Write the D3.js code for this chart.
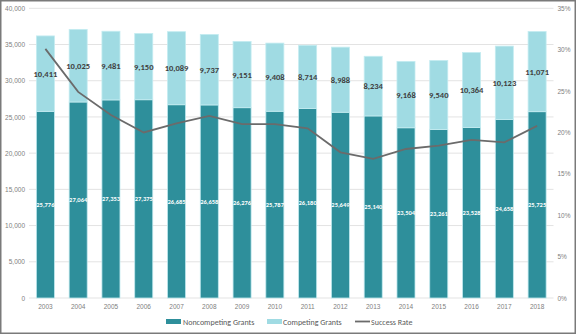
<!DOCTYPE html>
<html><head><meta charset="utf-8">
<script src="https://cdn.jsdelivr.net/npm/d3@7"></script>
<style>body{margin:0;background:#fff}svg{display:block;font-family:Calibri,Carlito,"Open Sans",sans-serif}</style>
</head><body>
<script>
const years = ["2003","2004","2005","2006","2007","2008","2009","2010","2011","2012","2013","2014","2015","2016","2017","2018"];
const noncompeting = [25776,27064,27353,27375,26685,26658,26276,25787,26180,25649,25140,23504,23261,23528,24658,25725];
const competing = [10411,10025,9481,9150,10089,9737,9151,9408,8714,8988,8234,9168,9540,10364,10123,11071];
const successRate = [30.1,24.9,22.1,20.0,21.1,22.0,21.0,21.0,20.5,17.6,16.8,18.0,18.4,19.1,18.8,20.8];
const leftTicks = [0,5000,10000,15000,20000,25000,30000,35000,40000];
const rightTicks = [0,5,10,15,20,25,30,35];

const W=576,H=334;
const svg=d3.select("body").append("svg").attr("width",W).attr("height",H);
svg.append("rect").attr("x",0.75).attr("y",0.75).attr("width",W-1.5).attr("height",H-1.5).attr("fill","#fff").attr("stroke","#7a7a7a").attr("stroke-width",1.5);

const x=d3.scaleBand().domain(years).range([29,553.5]).paddingInner(0.45).paddingOuter(0.225);
const y=d3.scaleLinear().domain([0,40000]).range([298,8.3]);
const y2=d3.scaleLinear().domain([0,35]).range([298,8.3]);

// gridlines
svg.append("g").selectAll("line").data(leftTicks).join("line")
 .attr("x1",29).attr("x2",553.5).attr("y1",d=>y(d)).attr("y2",d=>y(d))
 .attr("stroke","#e3e3e3").attr("stroke-width",1);

// left axis
const ax=d3.axisLeft(y).tickValues(leftTicks).tickFormat(d3.format(",")).tickSize(0).tickPadding(4);
const gl=svg.append("g").attr("transform","translate(29,0)").call(ax);
gl.select(".domain").remove();
gl.selectAll("text").attr("fill","#808080").style("font-size","6.5px");

const ar=d3.axisRight(y2).tickValues(rightTicks).tickFormat(d=>d+"%").tickSize(0).tickPadding(4);
const gr=svg.append("g").attr("transform","translate(553.5,0)").call(ar);
gr.select(".domain").remove();
gr.selectAll("text").attr("fill","#808080").style("font-size","6.5px");

const axb=d3.axisBottom(x).tickSize(0).tickPadding(6);
const gb=svg.append("g").attr("transform","translate(0,298)").call(axb);
gb.select(".domain").remove();
gb.selectAll("text").attr("fill","#808080").style("font-size","6.5px");

const DARK="#2e8f9b", LIGHT="#a0dbe3";
const bars=svg.append("g");
bars.selectAll("rect.nc").data(years).join("rect").attr("class","nc")
 .attr("x",d=>x(d)).attr("width",x.bandwidth())
 .attr("y",(d,i)=>y(noncompeting[i])).attr("height",(d,i)=>y(0)-y(noncompeting[i]))
 .attr("fill",DARK).attr("stroke","#bfe8ee").attr("stroke-width",0.8);
bars.selectAll("rect.c").data(years).join("rect").attr("class","c")
 .attr("x",d=>x(d)).attr("width",x.bandwidth())
 .attr("y",(d,i)=>y(noncompeting[i]+competing[i])).attr("height",(d,i)=>y(noncompeting[i])-y(noncompeting[i]+competing[i]))
 .attr("fill",LIGHT).attr("stroke","#c4ecf1").attr("stroke-width",0.8);

// line
const line=d3.line().x((d,i)=>x(years[i])+x.bandwidth()/2).y(d=>y2(d));
svg.append("path").datum(successRate).attr("d",line).attr("fill","none").attr("stroke","#6b6b6b").attr("stroke-width",1.8);

// labels
svg.append("g").selectAll("text").data(years).join("text")
 .attr("x",d=>x(d)+x.bandwidth()/2).attr("y",(d,i)=>y(noncompeting[i]/2)).attr("dy","0.35em")
 .attr("text-anchor","middle").attr("fill","#fff").style("font-size","6.5px").style("font-weight","bold")
 .text((d,i)=>d3.format(",")(noncompeting[i]));
svg.append("g").selectAll("text").data(years).join("text")
 .attr("x",d=>x(d)+x.bandwidth()/2).attr("y",(d,i)=>y(noncompeting[i]+competing[i]/2)).attr("dy","0.35em")
 .attr("text-anchor","middle").attr("fill","#404040").style("font-size","8.5px").style("font-weight","bold")
 .text((d,i)=>d3.format(",")(competing[i]));

// legend
const lg=svg.append("g").style("font-size","8px").attr("fill","#595959");
lg.append("rect").attr("x",166).attr("y",319).attr("width",15).attr("height",5).attr("fill",DARK);
lg.append("text").attr("x",183).attr("y",324.5).text("Noncompeting Grants");
lg.append("rect").attr("x",267).attr("y",319).attr("width",15).attr("height",5).attr("fill",LIGHT);
lg.append("text").attr("x",283).attr("y",324.5).text("Competing Grants");
lg.append("line").attr("x1",355).attr("x2",370).attr("y1",321.5).attr("y2",321.5).attr("stroke","#6b6b6b").attr("stroke-width",1.8);
lg.append("text").attr("x",371).attr("y",324.5).text("Success Rate");
</script>
</body></html>
